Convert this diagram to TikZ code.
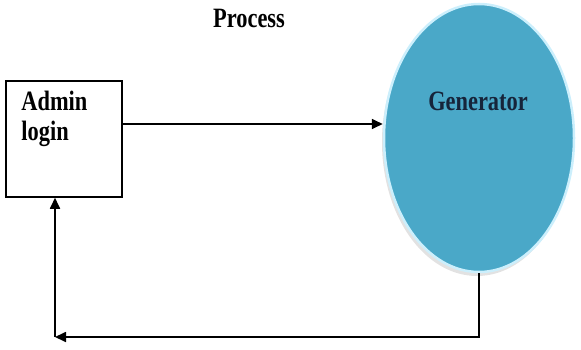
\documentclass[tikz,border=0pt]{standalone}
\usepackage{fontspec}
\setmainfont{Liberation Serif}[FakeStretch=0.8]
\usetikzlibrary{arrows.meta,positioning}
\usetikzlibrary{shapes.geometric}
\usetikzlibrary{shadows}
\definecolor{genblue}{RGB}{74,168,200}
\definecolor{gentext}{RGB}{22,36,58}
\tikzset{
  big text/.style={
    font=\bfseries\fontsize{28}{30}\selectfont, align=left, inner sep=0pt
  },
  login node/.style={
    draw, line width=1.5pt, minimum width=116pt, minimum height=116pt, inner sep=0pt
  },
  gen node/.style={
    ellipse, fill=genblue, draw=white!80!cyan, line width=2.5pt,
    minimum width=190pt, minimum height=268pt, inner sep=0pt,
    drop shadow={shadow xshift=-2pt, shadow yshift=-4pt, fill=gray!45}
  },
  flow/.style={line width=1.7pt, -{Triangle[length=11pt,width=10pt]}}
}

\begin{document}
\begin{tikzpicture}[x=1pt, y=1pt]
    \useasboundingbox (0,0) rectangle (581,349);
    \node[login node] (admin) at (64,210) {};
    \node[big text, anchor=north west] (admintext) at ([xshift=16pt,yshift=-11pt]admin.north west) {Admin\\login};
    \node[gen node] (gen) at (479,211) {};
    \node[big text, text=gentext, anchor=base] (gentext) at (478,239) {Generator};
    \node[big text, anchor=base] (process) at (249,321) {Process};
    \coordinate (corner) at (55,12);
    \draw[flow] ([yshift=15pt]admin.east) -- ([yshift=15pt]admin.east -| gen.west);
    \draw[flow] (gen.south) |- (corner);
    \draw[flow] (corner) -- (corner |- admin.south);
\end{tikzpicture}
\end{document}
